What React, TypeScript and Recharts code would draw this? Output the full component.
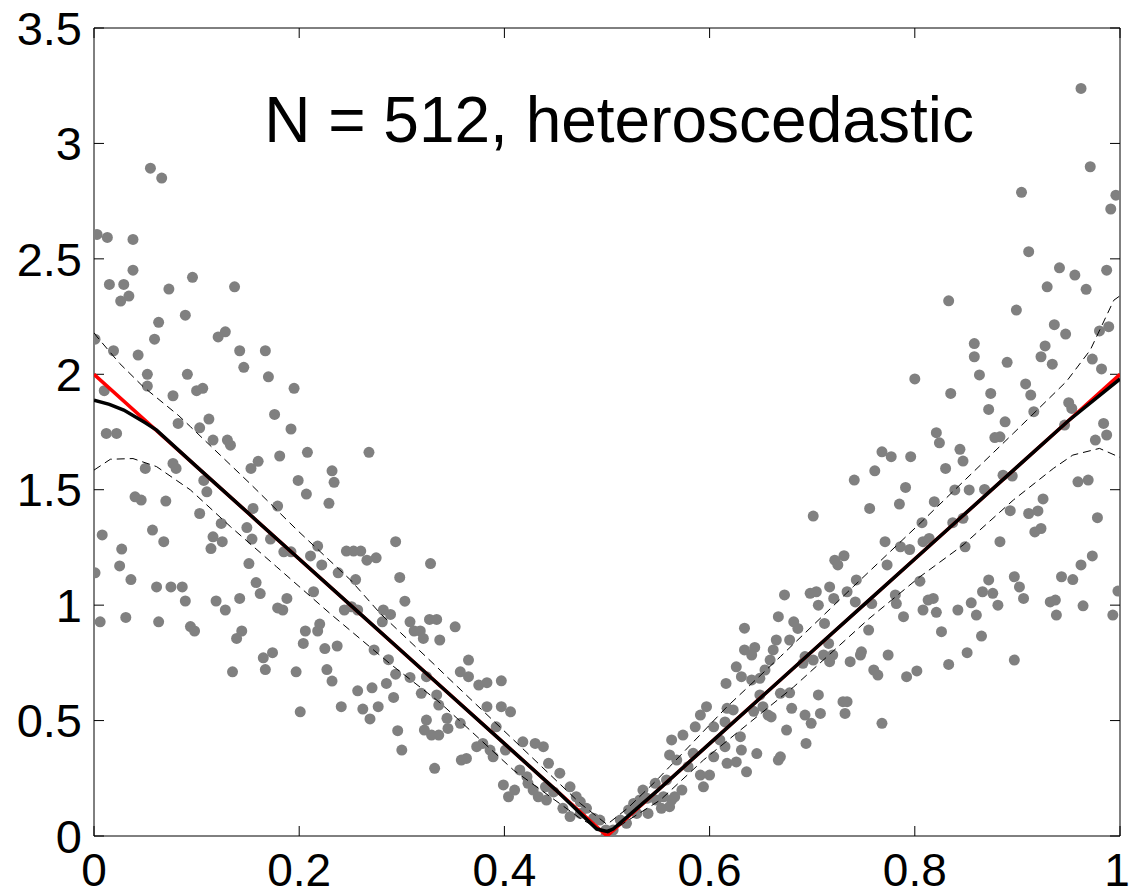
import { Scatter, ScatterChart, XAxis, YAxis } from "recharts";

type Pt = [number, number];

const xTicks = [0, 0.2, 0.4, 0.6, 0.8, 1];
const yTicks = [0, 0.5, 1, 1.5, 2, 2.5, 3, 3.5];
const title = "N = 512, heteroscedastic";

// observations, left branch (x < 0.5)
const leftObs: Pt[] = [
  [0.055, 2.893], [0.066, 2.85], [0.003, 2.606], [0.013, 2.593], [0.038, 2.584], [0.038, 2.451],
  [0.096, 2.42], [0.015, 2.389], [0.029, 2.389], [0.073, 2.369], [0.137, 2.379], [0.034, 2.339],
  [0.026, 2.317], [0.089, 2.256], [0.063, 2.225], [0.059, 2.152], [0.001, 2.152], [0.121, 2.162],
  [0.128, 2.184], [0.019, 2.102], [0.043, 2.083], [0.142, 2.102], [0.167, 2.102], [0.146, 2.03],
  [0.052, 2.0], [0.091, 2.0], [0.17, 1.989], [0.052, 1.949], [0.01, 1.929], [0.1, 1.929],
  [0.106, 1.939], [0.195, 1.939], [0.077, 1.907], [0.176, 1.826], [0.112, 1.806], [0.082, 1.787],
  [0.103, 1.768], [0.192, 1.763], [0.012, 1.744], [0.022, 1.744],
  [0.116, 1.715], [0.13, 1.715], [0.133, 1.693], [0.208, 1.662], [0.268, 1.662], [0.181, 1.646],
  [0.16, 1.623], [0.153, 1.592], [0.077, 1.614], [0.08, 1.592], [0.05, 1.592], [0.232, 1.582],
  [0.234, 1.532], [0.199, 1.54], [0.107, 1.54], [0.207, 1.481], [0.11, 1.491], [0.229, 1.441],
  [0.04, 1.469], [0.046, 1.455], [0.07, 1.451], [0.179, 1.429], [0.155, 1.419], [0.103, 1.397],
  [0.124, 1.354], [0.149, 1.336], [0.008, 1.304], [0.057, 1.325], [0.068, 1.275], [0.116, 1.296],
  [0.114, 1.245], [0.125, 1.275], [0.154, 1.286], [0.172, 1.286], [0.185, 1.231], [0.192, 1.231],
  [0.218, 1.256], [0.211, 1.213], [0.222, 1.174], [0.246, 1.234], [0.253, 1.234], [0.26, 1.234],
  [0.266, 1.195], [0.275, 1.205], [0.294, 1.275], [0.328, 1.18], [0.298, 1.12], [0.255, 1.111],
  [0.238, 1.14], [0.303, 1.017], [0.001, 1.14], [0.025, 1.17], [0.027, 1.243], [0.036, 1.111],
  [0.151, 1.18], [0.158, 1.098], [0.162, 1.05], [0.061, 1.079], [0.075, 1.079], [0.086, 1.079],
  [0.089, 1.018], [0.119, 1.018], [0.128, 0.979], [0.142, 1.029], [0.179, 0.988], [0.184, 0.979],
  [0.188, 1.029], [0.214, 1.058], [0.244, 0.979], [0.251, 0.993], [0.257, 0.979], [0.282, 0.979],
  [0.289, 0.96], [0.308, 0.928], [0.312, 0.888], [0.318, 0.888], [0.321, 0.856], [0.327, 0.938],
  [0.334, 0.938], [0.281, 0.928], [0.006, 0.928], [0.031, 0.947], [0.063, 0.928], [0.094, 0.907],
  [0.098, 0.888], [0.139, 0.856], [0.144, 0.888], [0.206, 0.888], [0.22, 0.918], [0.218, 0.888],
  [0.204, 0.834], [0.225, 0.812], [0.237, 0.823], [0.273, 0.806], [0.165, 0.772], [0.174, 0.794],
  [0.135, 0.711], [0.167, 0.721], [0.197, 0.711], [0.227, 0.721], [0.232, 0.671], [0.287, 0.764],
  [0.294, 0.701], [0.285, 0.661], [0.308, 0.687], [0.271, 0.642], [0.257, 0.629], [0.292, 0.6],
  [0.319, 0.618], [0.277, 0.56], [0.262, 0.55], [0.241, 0.56], [0.201, 0.538], [0.269, 0.507],
  [0.334, 0.611], [0.336, 0.567], [0.324, 0.502], [0.337, 0.849], [0.296, 0.456], [0.3, 0.372],
];

// observations around the minimum
const valleyObs: Pt[] = [
  [0.352, 0.906], [0.365, 0.762], [0.357, 0.711], [0.365, 0.69], [0.324, 0.69], [0.375, 0.654],
  [0.383, 0.664], [0.397, 0.672], [0.383, 0.56], [0.397, 0.56], [0.406, 0.538], [0.322, 0.459],
  [0.329, 0.437], [0.336, 0.437], [0.345, 0.466], [0.357, 0.488], [0.392, 0.473], [0.373, 0.387],
  [0.379, 0.401], [0.358, 0.329], [0.363, 0.336], [0.386, 0.372], [0.389, 0.343], [0.401, 0.372],
  [0.418, 0.408], [0.43, 0.401], [0.438, 0.387], [0.443, 0.315], [0.415, 0.286], [0.422, 0.257],
  [0.454, 0.272], [0.332, 0.293], [0.399, 0.221], [0.41, 0.199], [0.404, 0.17], [0.423, 0.228],
  [0.428, 0.199], [0.433, 0.17], [0.44, 0.213], [0.448, 0.191], [0.441, 0.156], [0.464, 0.213],
  [0.47, 0.17], [0.474, 0.148], [0.457, 0.12], [0.464, 0.084], [0.474, 0.098], [0.48, 0.12],
  [0.487, 0.077], [0.493, 0.069], [0.499, 0.026], [0.503, 0.012], [0.344, 0.51],
  [0.616, 0.661], [0.597, 0.56], [0.617, 0.553], [0.591, 0.524], [0.586, 0.473], [0.604, 0.473],
  [0.61, 0.416], [0.574, 0.437], [0.563, 0.416], [0.561, 0.351], [0.568, 0.329], [0.584, 0.358],
  [0.579, 0.3], [0.604, 0.343], [0.617, 0.315], [0.591, 0.264], [0.6, 0.264], [0.594, 0.213],
  [0.573, 0.199], [0.558, 0.243], [0.555, 0.17], [0.548, 0.156], [0.561, 0.127], [0.553, 0.12],
  [0.535, 0.199], [0.539, 0.163], [0.532, 0.156], [0.526, 0.141], [0.521, 0.113], [0.529, 0.098],
  [0.513, 0.069], [0.519, 0.055], [0.506, 0.026], [0.499, 0.0], [0.54, 0.098], [0.547, 0.228],
  [0.563, 0.156], [0.566, 0.17],
];

// observations, right branch (x > 0.6)
const rightObs: Pt[] = [
  [0.623, 0.546], [0.615, 0.494], [0.63, 0.43], [0.631, 0.372], [0.615, 0.387], [0.626, 0.321],
  [0.636, 0.278], [0.646, 0.357], [0.669, 0.343], [0.667, 0.329], [0.675, 0.459], [0.694, 0.401],
  [0.68, 0.553], [0.693, 0.524], [0.699, 0.488], [0.708, 0.531], [0.73, 0.582], [0.734, 0.582],
  [0.732, 0.531], [0.768, 0.488], [0.706, 0.611], [0.669, 0.618], [0.678, 0.62], [0.652, 0.56],
  [0.657, 0.524], [0.66, 0.516], [0.649, 0.611], [0.641, 0.676], [0.649, 0.683], [0.631, 0.69],
  [0.626, 0.733], [0.634, 0.806], [0.644, 0.817], [0.641, 0.784], [0.634, 0.9], [0.659, 0.762],
  [0.654, 0.719], [0.662, 0.806], [0.665, 0.849], [0.678, 0.849], [0.667, 0.95], [0.682, 0.928],
  [0.686, 0.899], [0.673, 1.044], [0.698, 1.051], [0.704, 1.058], [0.706, 1.0], [0.717, 1.079],
  [0.721, 1.029], [0.725, 1.174], [0.722, 1.195], [0.743, 1.109], [0.734, 1.058], [0.742, 1.014],
  [0.712, 0.921], [0.693, 0.777], [0.691, 0.748], [0.701, 0.762], [0.711, 0.784], [0.72, 0.784],
  [0.717, 0.755], [0.737, 0.755], [0.747, 0.784], [0.748, 0.798], [0.755, 0.892], [0.76, 0.719],
  [0.764, 0.697], [0.774, 0.784], [0.792, 0.69], [0.789, 0.95], [0.781, 1.044], [0.782, 1.007],
  [0.773, 1.174], [0.758, 1.007], [0.643, 0.54],
  [0.8, 1.98], [0.835, 1.917], [0.874, 1.917], [0.908, 1.958], [0.913, 1.91], [0.872, 1.848],
  [0.916, 1.838], [0.95, 1.877], [0.953, 1.852], [0.888, 1.794], [0.946, 1.78], [0.984, 1.787],
  [0.987, 1.737], [0.976, 1.715], [0.821, 1.747], [0.824, 1.703], [0.878, 1.726], [0.883, 1.729],
  [0.844, 1.675], [0.847, 1.624], [0.768, 1.664], [0.777, 1.643], [0.796, 1.643], [0.83, 1.592],
  [0.761, 1.582], [0.741, 1.542], [0.886, 1.563], [0.895, 1.559], [0.791, 1.51], [0.839, 1.499],
  [0.853, 1.499], [0.868, 1.501], [0.959, 1.534], [0.969, 1.542], [0.785, 1.438], [0.819, 1.448],
  [0.756, 1.419], [0.701, 1.386], [0.893, 1.409], [0.911, 1.397], [0.92, 1.408], [0.925, 1.46],
  [0.978, 1.379], [0.807, 1.357], [0.837, 1.357], [0.847, 1.376], [0.917, 1.317], [0.923, 1.332],
  [0.808, 1.275], [0.814, 1.289], [0.771, 1.275], [0.883, 1.275], [0.786, 1.253], [0.795, 1.241],
  [0.849, 1.253], [0.731, 1.214], [0.805, 1.104], [0.872, 1.109], [0.897, 1.123], [0.902, 1.079],
  [0.943, 1.123], [0.954, 1.111], [0.962, 1.174], [0.973, 1.213], [0.998, 1.061], [0.993, 0.957],
  [0.964, 0.997], [0.938, 0.957], [0.932, 1.014], [0.937, 1.022], [0.906, 1.029], [0.866, 1.058],
  [0.876, 1.051], [0.881, 1.0], [0.855, 1.01], [0.86, 0.957], [0.842, 0.979], [0.821, 0.969],
  [0.808, 0.979], [0.813, 1.022], [0.818, 1.029], [0.826, 0.885], [0.865, 0.866], [0.851, 0.794],
  [0.897, 0.762], [0.833, 0.743], [0.802, 0.715], [0.716, 0.834],
  [0.962, 3.238], [0.971, 2.899], [0.904, 2.788], [0.996, 2.776], [0.991, 2.716], [0.911, 2.531],
  [0.941, 2.461], [0.956, 2.43], [0.987, 2.451], [0.967, 2.368], [0.929, 2.379], [0.833, 2.318],
  [0.899, 2.278], [0.936, 2.215], [0.947, 2.174], [0.98, 2.188], [0.989, 2.206], [0.858, 2.133],
  [0.927, 2.123], [0.858, 2.076], [0.89, 2.052], [0.923, 2.076], [0.934, 2.044], [0.973, 2.066],
  [0.982, 2.023], [0.863, 1.997],
];

// true regression function
const trueCurve: Pt[] = [[0, 2], [0.5, 0], [1, 2]];

// estimate
const fitCurve: Pt[] = [
  [0, 1.888], [0.015, 1.87], [0.029, 1.845], [0.05, 1.79], [0.061, 1.758], [0.1, 1.6],
  [0.15, 1.4], [0.2, 1.2], [0.25, 1.0], [0.3, 0.8], [0.35, 0.6], [0.4, 0.4], [0.45, 0.2],
  [0.49, 0.03], [0.5, 0.02], [0.506, 0.03], [0.55, 0.2], [0.6, 0.4], [0.65, 0.6], [0.7, 0.8],
  [0.75, 1.0], [0.8, 1.2], [0.85, 1.4], [0.9, 1.6], [0.95, 1.8], [1, 1.98],
];

// pointwise band
const upperBand: Pt[] = [
  [0, 2.18], [0.003, 2.162], [0.025, 2.047], [0.048, 1.946], [0.082, 1.823], [0.094, 1.773],
  [0.152, 1.527], [0.198, 1.325], [0.25, 1.109], [0.279, 0.964], [0.334, 0.733], [0.344, 0.69],
  [0.409, 0.416], [0.474, 0.141], [0.5, 0.05], [0.52, 0.12], [0.548, 0.24], [0.561, 0.3],
  [0.617, 0.56], [0.669, 0.777], [0.74, 1.08], [0.805, 1.354], [0.896, 1.744], [0.948, 1.97],
  [0.971, 2.105], [0.994, 2.321], [1, 2.34],
];
const lowerBand: Pt[] = [
  [0, 1.585], [0.016, 1.632], [0.038, 1.635], [0.061, 1.6], [0.094, 1.499], [0.133, 1.34],
  [0.178, 1.166], [0.23, 0.964], [0.288, 0.748], [0.334, 0.589], [0.344, 0.55], [0.409, 0.285],
  [0.474, 0.076], [0.5, 0.01], [0.552, 0.156], [0.594, 0.329], [0.682, 0.646], [0.755, 0.94],
  [0.805, 1.123], [0.847, 1.26], [0.896, 1.455], [0.935, 1.592], [0.954, 1.65], [0.98, 1.679],
  [1, 1.64],
];

const toRows = (pts: Pt[]) => pts.map(([x, y]) => ({ x, y }));

const FONT = "'Liberation Sans', Arial, Helvetica, sans-serif";
const yTickStyle = { fill: "#000", fontSize: 47, fontFamily: FONT };

// bottom tick label; the last one is nudged left so it stays inside the picture
function XTick(props: any) {
  const { x, y, payload } = props;
  const shift = payload.value === 1 ? -3 : 0;
  return (
    <text x={x + shift} y={y} dy="0.71em" textAnchor="middle" fontSize={46} fontFamily={FONT} fill="#000">
      {String(payload.value)}
    </text>
  );
}

function Dot(props: any) {
  const { cx, cy } = props;
  if (cx == null || cy == null) return <g />;
  return <circle cx={cx} cy={cy} r={5.5} fill="#808080" />;
}

function NoMark() {
  return <g />;
}

export default function App() {
  return (
    <div style={{ position: "absolute", left: 0, top: 0, width: 1131, height: 895, background: "#fff" }}>
      <ScatterChart width={1131} height={895} margin={{ top: 27, right: 0, bottom: 0, left: 0 }}>
        <XAxis
          xAxisId="bottom"
          type="number"
          dataKey="x"
          domain={[0, 1]}
          allowDataOverflow
          ticks={xTicks}
          interval={0}
          height={59}
          tickSize={-10}
          tickMargin={27}
          axisLine={{ stroke: "#000" }}
          tickLine={{ stroke: "#000" }}
          tick={XTick}
        />
        <XAxis
          xAxisId="top"
          orientation="top"
          type="number"
          dataKey="x"
          domain={[0, 1]}
          allowDataOverflow
          ticks={xTicks}
          interval={0}
          height={1}
          tickSize={-10}
          tickFormatter={() => ""}
          axisLine={{ stroke: "#000" }}
          tickLine={{ stroke: "#000" }}
        />
        <YAxis
          yAxisId="left"
          type="number"
          dataKey="y"
          domain={[0, 3.5]}
          allowDataOverflow
          ticks={yTicks}
          interval={0}
          width={94}
          tickSize={-10}
          tickMargin={22}
          axisLine={{ stroke: "#000" }}
          tickLine={{ stroke: "#000" }}
          tick={yTickStyle}
        />
        <YAxis
          yAxisId="right"
          orientation="right"
          type="number"
          dataKey="y"
          domain={[0, 3.5]}
          allowDataOverflow
          ticks={yTicks}
          interval={0}
          width={11}
          tickSize={-10}
          tickFormatter={() => ""}
          axisLine={{ stroke: "#000" }}
          tickLine={{ stroke: "#000" }}
        />
        <Scatter xAxisId="bottom" yAxisId="left" data={toRows(leftObs)} shape={Dot} isAnimationActive={false} />
        <Scatter xAxisId="bottom" yAxisId="left" data={toRows(valleyObs)} shape={Dot} isAnimationActive={false} />
        <Scatter xAxisId="bottom" yAxisId="left" data={toRows(rightObs)} shape={Dot} isAnimationActive={false} />
        <Scatter
          xAxisId="top"
          yAxisId="right"
          data={toRows(trueCurve)}
          shape={NoMark}
          line={{ stroke: "#ff0000", strokeWidth: 3.5 }}
          isAnimationActive={false}
        />
        <Scatter
          xAxisId="bottom"
          yAxisId="left"
          data={toRows(fitCurve)}
          shape={NoMark}
          line={{ stroke: "#000", strokeWidth: 3.5 }}
          isAnimationActive={false}
        />
        <Scatter
          xAxisId="bottom"
          yAxisId="left"
          data={toRows(upperBand)}
          shape={NoMark}
          line={{ stroke: "#000", strokeWidth: 1, strokeDasharray: "8 5" }}
          isAnimationActive={false}
        />
        <Scatter
          xAxisId="bottom"
          yAxisId="left"
          data={toRows(lowerBand)}
          shape={NoMark}
          line={{ stroke: "#000", strokeWidth: 1, strokeDasharray: "8 5" }}
          isAnimationActive={false}
        />
      </ScatterChart>
      <svg width={1131} height={895} style={{ position: "absolute", left: 0, top: 0, pointerEvents: "none" }}>
        <text x={619} y={142} textAnchor="middle" fontSize={64} fontFamily={FONT} fill="#000">
          {title}
        </text>
      </svg>
    </div>
  );
}
